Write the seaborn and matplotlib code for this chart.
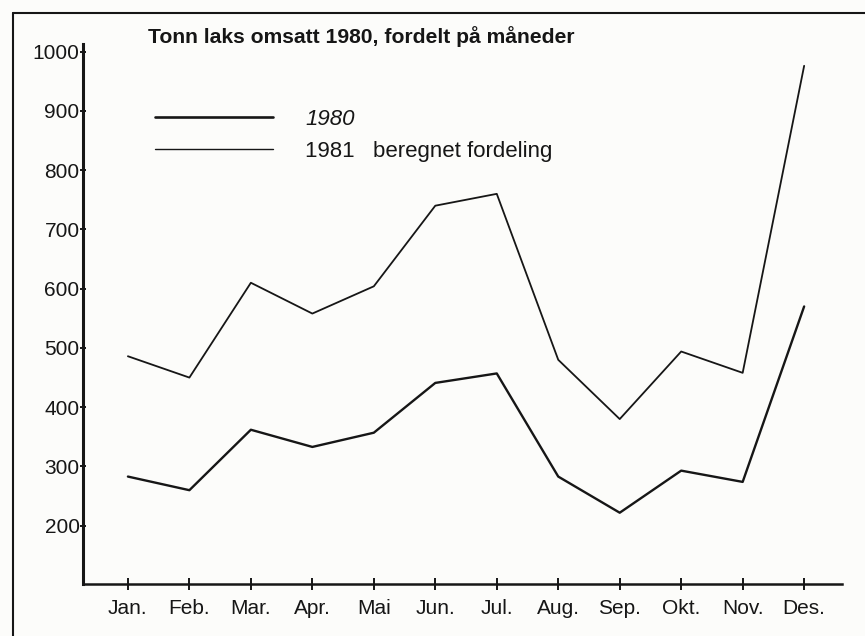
import numpy as np
import pandas as pd
import seaborn as sns
import matplotlib.pyplot as plt
from matplotlib.lines import Line2D

# data (tonn)
months = ['Jan.', 'Feb.', 'Mar.', 'Apr.', 'Mai', 'Jun.', 'Jul.', 'Aug.', 'Sep.', 'Okt.', 'Nov.', 'Des.']
v1980 = [283, 260, 362, 333, 357, 441, 457, 283, 222, 293, 274, 570]
v1981 = [486, 450, 610, 558, 604, 740, 760, 480, 380, 494, 458, 976]
yticks = [200, 300, 400, 500, 600, 700, 800, 900, 1000]
title = 'Tonn laks omsatt 1980, fordelt på måneder'
lab1980 = '1980'
lab1981 = '1981   beregnet fordeling'

sns.set_style('ticks')
plt.rcParams['font.family'] = ['Liberation Sans', 'DejaVu Sans']

bg = '#fcfcfa'
ink = '#161616'

d = pd.DataFrame({'mnd': np.arange(len(months)), 'y1980': v1980, 'y1981': v1981})

fig = plt.figure(figsize=(8.65, 6.36), dpi=100, facecolor=bg)
ax = fig.add_axes([0.096, 0.082, 0.877, 0.849])
ax.set_facecolor(bg)

sns.lineplot(data=d, x='mnd', y='y1981', ax=ax, color=ink, linewidth=1.3, sort=False)
sns.lineplot(data=d, x='mnd', y='y1980', ax=ax, color=ink, linewidth=1.7, sort=False)

ax.set_xlim(-0.73, 11.61)
ax.set_ylim(102, 1013)
ax.set_xticks(np.arange(len(months)))
ax.set_xticklabels(months)
ax.set_yticks(yticks)
ax.set_xlabel('')
ax.set_ylabel('')

for s in ['top', 'right']:
    ax.spines[s].set_visible(False)
ax.spines['left'].set_linewidth(2.2)
ax.spines['bottom'].set_linewidth(1.8)
ax.spines['left'].set_color(ink)
ax.spines['bottom'].set_color(ink)

ax.tick_params(axis='x', direction='inout', length=9, width=1.4, colors=ink,
               labelsize=15, pad=6.5)
ax.tick_params(axis='y', direction='inout', length=5, width=1.4, colors=ink,
               labelsize=15, pad=0)

# legend
handles = [Line2D([], [], color=ink, linewidth=1.9),
           Line2D([], [], color=ink, linewidth=1.0)]
leg = fig.legend(handles, [lab1980, lab1981], loc='upper left',
                 bbox_to_anchor=(155 / 865, 1 - 109 / 636), frameon=False,
                 fontsize=16, handlelength=5.3, handletextpad=1.45,
                 labelspacing=0.48, borderpad=0, borderaxespad=0)
leg.get_texts()[0].set_fontstyle('italic')
for t in leg.get_texts():
    t.set_color(ink)

fig.text(148 / 865, 1 - 37 / 636, title, fontsize=15.2, fontweight='bold',
         color=ink, ha='left', va='center')

# frame of the scanned page (left and top edges)
fig.add_artist(Line2D([13 / 865, 13 / 865], [0, 1 - 13 / 636],
                      transform=fig.transFigure, color=ink, linewidth=1.5))
fig.add_artist(Line2D([13 / 865, 1], [1 - 13 / 636, 1 - 13 / 636],
                      transform=fig.transFigure, color=ink, linewidth=1.5))

fig.savefig('out.png', dpi=100, facecolor=bg)
